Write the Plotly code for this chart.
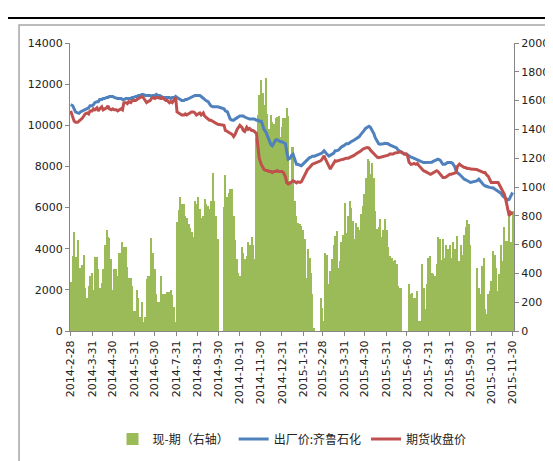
"""
现-期价差与出厂价、期货收盘价走势
Recreated with Plotly
"""

import pandas as pd
import plotly.graph_objects as go

# Sampling dates: Mon / Wed / Fri of each week, first and last trading day of the window
first_day = pd.Timestamp('2014-02-28')
last_day = pd.Timestamp('2015-11-30')
mondays = pd.date_range('2014-03-03', '2015-11-23', freq='W-MON')
dates = [first_day] + [m + pd.Timedelta(days=k) for m in mondays for k in (0, 2, 4)] + [last_day]

# 现-期 (right axis), None = market closed
spread_2014 = [
    340,
    520, 690, 515, 630, 415, 440, 460, 530, 300, 230, 315, 380, 400, 285, 515,
    515, 430, 300, 330, 430, 600, 700, 650, 645, 500, 285, 430,
    430, 385, 540, 540, 615, 585, 585, 445, 370, 370, 315, 140,
    140, 285, 230, 100, 200, 60, 100, 360, 385, 385, 645, 545, 430, 255, 200,
    200, 385, 255, 255, 255, 270, 270, 285, 250, 170, 60, 760,
    840, 930, 885, 885, 800, 785, 740, 715, 685, 650, 900, 880,
    930, 850, 785, 800, 915, 880, 870, 850, 900, 1100, 900, 800, 640, None, None,
    None, 860, 1085, 930, 960, 985, 985, 800, 630, 500, 400, 385,
    585, 540, 500, 520, 615, 600, 655, 600, 500, 1340, 1500, 1640,
    1740, 1650, 1570, 1760, 1510, 1400, 1500, 1450, 1440, 1480, 1485, 1495, 1345, 1420, 1480,
]
spread_2015 = [
    1480, 1550, 1495, 1040, 1275, 1275, 900, 800, 750, 740, 730, 700,
    640, 370, 570, 510, 400, 255, 20, None, None, None, 230, 160,
    70, 545, 530, 325, 415, 500, 600, 660, 695, 440, 485, 615, 670, 890, 680,
    800, 900, 855, 765, 640, 750, 720, 700, 810, 870, 950, 1065,
    1195, 1180, 1090, 1170, 1065, 835, 705, 720, 775, 650, 700, 775,
    700, 580, 520, 510, 485, 490, 465, 310, 300, 300, 0, 0, 0, 0, 325,
    255, 265, 230, 230, 280, 70, 70, 465, 300, 150, 325, 510,
    520, 405, 395, 380, 465, 650, 640, 490, 640, 510, 600, 570, 600, 510, 615,
    570, 530, 660, 485, 600, 530, 670, 720, 770, 740, 600, None,
    None, None, 440, 300, 255, 450, 510, 150, 115, 255, 280, 350,
    555, 530, 440, 280, 395, 600, 485, 720, 625, 625, 810, 615,
    835,
]

# 出厂价:齐鲁石化 (left axis)
qilu_2014 = [
    11000,
    10950, 10800, 10650, 10600, 10580, 10650, 10700, 10750, 10800, 10850, 10850, 10950, 10950, 11000, 11100,
    11150, 11150, 11250, 11250, 11300, 11300, 11350, 11350, 11400, 11400, 11400, 11350,
    11300, 11300, 11300, 11300, 11250, 11250, 11300, 11300, 11300, 11300, 11350, 11350,
    11400, 11400, 11450, 11450, 11500, 11500, 11450, 11450, 11450, 11450, 11400, 11450, 11450, 11500, 11450,
    11450, 11400, 11350, 11350, 11350, 11350, 11350, 11300, 11350, 11350, 11400, 11350,
    11300, 11250, 11200, 11200, 11250, 11250, 11300, 11350, 11400, 11450, 11450, 11450,
    11450, 11450, 11400, 11300, 11250, 11200, 11150, 11050, 10950, 10900, 10900, 10900, 10900, None, None,
    None, 10800, 10700, 10650, 10500, 10300, 10250, 10250, 10300, 10350, 10400, 10450,
    10450, 10450, 10400, 10350, 10300, 10300, 10300, 10300, 10300, 10250, 10250, 10200,
    10200, 10000, 9800, 9650, 9500, 9300, 9050, 9000, 9150, 9300, 9300, 9250, 9200, 9200, 9150,
]
qilu_2015 = [
    9100, 8700, 8350, 8400, 8550, 8600, 8300, 8100, 8100, 8050, 8030, 8100,
    8200, 8270, 8350, 8430, 8450, 8500, 8500, None, None, None, 8600, 8650,
    8760, 8700, 8600, 8500, 8550, 8600, 8650, 8760, 8760, 8800, 8900, 8950, 9000, 9050, 9100,
    9100, 9160, 9200, 9250, 9300, 9330, 9400, 9450, 9550, 9650, 9750, 9850,
    9900, 9950, 9900, 9730, 9600, 9400, 9250, 9100, 9080, 9080, 9100, 9120,
    9120, 9100, 9050, 9000, 9000, 8950, 8900, 8800, 8760, 8700, 8650, 8600, 8600, 8550, 8500,
    8450, 8430, 8400, 8350, 8300, 8300, 8250, 8200, 8190, 8190, 8190, 8190,
    8190, 8200, 8250, 8300, 8350, 8350, 8300, 8200, 8100, 8100, 8150, 8190, 8190, 8190, 8150,
    8000, 7800, 7700, 7620, 7550, 7450, 7380, 7350, 7300, 7250, 7220, None,
    None, None, 7300, 7380, 7300, 7200, 7100, 7060, 7050, 7000, 6980, 6970,
    6950, 6900, 6850, 6810, 6750, 6700, 6550, 6490, 6450, 6370, 6400, 6570,
    6730,
]

# 期货收盘价 (left axis)
futures_2014 = [
    10700,
    10450, 10200, 10150, 10150, 10200, 10250, 10350, 10450, 10550, 10600, 10550, 10700, 10700, 10800, 10750,
    10850, 10700, 10800, 10900, 10750, 10800, 10850, 10950, 10800, 10750, 10800, 10750,
    10750, 10700, 10750, 10800, 10750, 11100, 11100, 11050, 11150, 11100, 11200, 11200,
    11200, 11250, 11300, 11350, 11400, 11350, 11200, 11100, 11150, 11200, 11300, 11350, 11300, 11350, 11350,
    11300, 11300, 11350, 11250, 11200, 11200, 11100, 11150, 11100, 11250, 11350, 10650,
    10600, 10550, 10500, 10500, 10550, 10500, 10550, 10600, 10650, 10650, 10600, 10500,
    10550, 10600, 10500, 10600, 10450, 10400, 10300, 10250, 10250, 10200, 10150, 10100, 10050, None, None,
    None, 10000, 9750, 9700, 9650, 9600, 9550, 9450, 9550, 9800, 9900, 10000,
    9900, 9750, 9700, 9900, 9800, 9850, 9750, 9750, 9700, 9600, 9000, 8400,
    8100, 8000, 7850, 7800, 7800, 7750, 7750, 7700, 7750, 7750, 7800, 7750, 7750, 7750, 7700,
]
futures_2015 = [
    7500, 7200, 7150, 7200, 7250, 7300, 7250, 7200, 7250, 7220, 7250, 7400,
    7550, 7750, 7850, 7950, 8050, 8110, 8150, None, None, None, 8270, 8350,
    8520, 8350, 8190, 7950, 7870, 8000, 8150, 8270, 8250, 8300, 8300, 8330, 8350, 8380, 8400,
    8400, 8430, 8450, 8500, 8550, 8600, 8650, 8700, 8750, 8840, 8880, 8900,
    8920, 8900, 8800, 8680, 8600, 8550, 8450, 8430, 8450, 8450, 8500, 8500,
    8550, 8550, 8600, 8600, 8600, 8650, 8650, 8680, 8700, 8700, 8650, 8600, 8600, 8500, 8200,
    8100, 8110, 8150, 8100, 8150, 8050, 7950, 7850, 7790, 7750, 7700, 7650,
    7620, 7650, 7700, 7750, 7790, 7750, 7650, 7550, 7460, 7460, 7500, 7550, 7620, 7620, 7650,
    7700, 7700, 8000, 8110, 8050, 8000, 7950, 7950, 7900, 7900, 7870, None,
    None, None, 7850, 7790, 7790, 7750, 7700, 7700, 7600, 7500, 7350, 7220,
    7220, 7220, 7220, 7220, 7100, 6950, 6800, 6650, 6400, 6000, 5600, 5760,
    5680,
]

spread = spread_2014 + spread_2015
qilu = qilu_2014 + qilu_2015
futures = futures_2014 + futures_2015

# Month-end tick labels
month_ends = pd.date_range('2014-02-28', '2015-11-30', freq='ME')
tick_text = [f'{d.year}-{d.month}-{d.day}' for d in month_ends]

fig = go.Figure()

# Bars on 'y' (drawn first, right side); lines on 'y2' (left side, on top)
fig.add_trace(
    go.Bar(
        x=dates, y=spread,
        name='现-期（右轴）',
        marker=dict(color='#9BBB59', line=dict(width=0)),
        width=1.5 * 86400000,
        yaxis='y'
    )
)

fig.add_trace(
    go.Scatter(
        x=dates, y=qilu,
        name='出厂价:齐鲁石化',
        mode='lines',
        connectgaps=True,
        line=dict(color='#4F81BD', width=3),
        yaxis='y2'
    )
)

fig.add_trace(
    go.Scatter(
        x=dates, y=futures,
        name='期货收盘价',
        mode='lines',
        connectgaps=True,
        line=dict(color='#C0504D', width=3),
        yaxis='y2'
    )
)

axis_font = dict(family='DejaVu Sans', size=11, color='#222222')

fig.update_layout(
    width=553,
    height=461,
    paper_bgcolor='white',
    plot_bgcolor='white',
    margin=dict(l=62, r=39, t=35, b=138),
    bargap=0,
    showlegend=True,
    legend=dict(
        orientation='h',
        x=0.5, xanchor='center',
        y=-0.375, yanchor='middle',
        font=dict(family='Noto Sans CJK SC', size=12, color='#222222'),
        itemwidth=30,
        tracegroupgap=0
    ),
    xaxis=dict(
        type='date',
        range=['2014-02-27', '2015-12-02'],
        tickvals=month_ends,
        ticktext=tick_text,
        tickangle=-90,
        tickfont=axis_font,
        ticks='outside',
        ticklen=4,
        tickcolor='#868686',
        showline=True,
        linecolor='#868686',
        linewidth=1,
        showgrid=False,
        zeroline=False
    ),
    yaxis=dict(
        side='right',
        range=[0, 2000],
        dtick=200,
        tickformat='d',
        tickfont=axis_font,
        ticks='outside',
        ticklen=4,
        tickcolor='#868686',
        showline=True,
        linecolor='#868686',
        showgrid=False,
        zeroline=False
    ),
    yaxis2=dict(
        overlaying='y',
        side='left',
        range=[0, 14000],
        dtick=2000,
        tickformat='d',
        tickfont=axis_font,
        ticks='outside',
        ticklen=4,
        tickcolor='#868686',
        showline=True,
        linecolor='#868686',
        showgrid=False,
        zeroline=False
    ),
    shapes=[
        # outer chart frame
        dict(type='rect', xref='paper', yref='paper',
             x0=-0.1148, x1=1.2, y0=-0.469, y1=1.0625,
             line=dict(color='#A6A6A6', width=1.5), layer='below'),
        # black rule under the (cropped) heading
        dict(type='line', xref='paper', yref='paper',
             x0=-0.2, x1=1.2, y0=1.0868, y1=1.0868,
             line=dict(color='black', width=2))
    ]
)

fig.write_html("out.html")
